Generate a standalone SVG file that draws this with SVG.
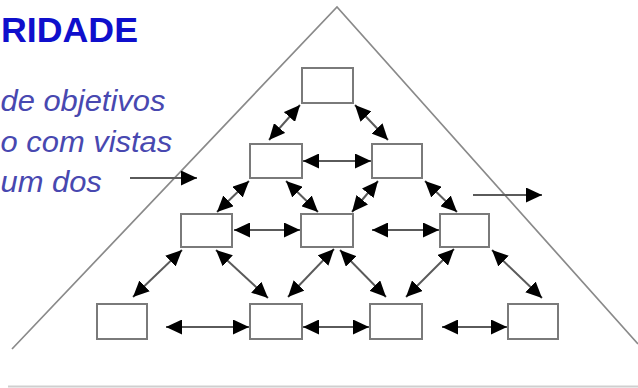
<svg xmlns="http://www.w3.org/2000/svg" width="638" height="388" viewBox="0 0 638 388">
<style>
.box{fill:#fff;stroke:#7a7a7a;stroke-width:2}
.con{stroke:#5a5a5a;stroke-width:2;fill:none}
.dbl{marker-start:url(#ah);marker-end:url(#ah)}
.one{marker-end:url(#ah)}
.title{font-family:"Liberation Sans",Arial,sans-serif;font-weight:bold;font-size:35px;fill:#0f0fcc}
.body{font-family:"Liberation Sans",Arial,sans-serif;font-style:italic;font-size:30px;fill:#4848b0}
</style>
<defs>
<marker id="ah" viewBox="0 0 16 15" refX="16" refY="7.5" markerWidth="16" markerHeight="15" markerUnits="userSpaceOnUse" orient="auto-start-reverse">
<path d="M0,0 L16,7.5 L0,15 z" fill="#000"/>
</marker>
</defs>
<rect width="638" height="388" fill="#fff"/>
<g id="title"><text class="title" x="1" y="42" textLength="137" lengthAdjust="spacingAndGlyphs">RIDADE</text></g>
<g id="body-text" transform="scale(1.03,1)">
<text class="body" x="0.5" y="111">de objetivos</text>
<text class="body" x="0.5" y="152">o com vistas</text>
<text class="body" x="0.5" y="192">um dos</text>
</g>
<g id="pyramid"><polyline points="12,349 337,7 638,344" fill="none" stroke="#8a8a8a" stroke-width="1.7"/></g>
<g id="baseline"><line x1="8" y1="386.5" x2="638" y2="386.5" stroke="#cfcfcf" stroke-width="2"/></g>
<g id="connectors">
<line class="con dbl" x1="300" y1="105" x2="269" y2="140"/>
<line class="con dbl" x1="355" y1="105" x2="388" y2="140"/>
<line class="con dbl" x1="303" y1="161" x2="371" y2="161"/>
<line class="con dbl" x1="249" y1="181" x2="217" y2="212"/>
<line class="con dbl" x1="286" y1="181" x2="318" y2="212"/>
<line class="con dbl" x1="378" y1="181" x2="352" y2="212"/>
<line class="con dbl" x1="425" y1="181" x2="457" y2="212"/>
<line class="con dbl" x1="234" y1="230" x2="300" y2="230"/>
<line class="con dbl" x1="372" y1="230" x2="439" y2="230"/>
<line class="con dbl" x1="182" y1="250" x2="133" y2="297"/>
<line class="con dbl" x1="216" y1="250" x2="268" y2="298"/>
<line class="con dbl" x1="334" y1="249" x2="288" y2="297"/>
<line class="con dbl" x1="340" y1="250" x2="386" y2="297"/>
<line class="con dbl" x1="454" y1="249" x2="406" y2="297"/>
<line class="con dbl" x1="492" y1="250" x2="542" y2="298"/>
<line class="con dbl" x1="166" y1="327" x2="249" y2="327"/>
<line class="con dbl" x1="303" y1="327" x2="369" y2="327"/>
<line class="con dbl" x1="442" y1="327" x2="507" y2="327"/>
<line class="con one" x1="130" y1="178" x2="197" y2="178"/>
<line class="con one" x1="473" y1="195" x2="542" y2="195"/>
</g>
<g id="n-top"><rect class="box" x="302" y="68" width="51" height="35"/></g>
<g id="n-2a"><rect class="box" x="250" y="144" width="52" height="34"/></g>
<g id="n-2b"><rect class="box" x="372" y="144" width="50" height="34"/></g>
<g id="n-3a"><rect class="box" x="181" y="214" width="51" height="33"/></g>
<g id="n-3b"><rect class="box" x="301" y="214" width="52" height="33"/></g>
<g id="n-3c"><rect class="box" x="440" y="214" width="49" height="33"/></g>
<g id="n-4a"><rect class="box" x="97" y="304" width="50" height="35"/></g>
<g id="n-4b"><rect class="box" x="250" y="304" width="52" height="35"/></g>
<g id="n-4c"><rect class="box" x="370" y="304" width="52" height="35"/></g>
<g id="n-4d"><rect class="box" x="508" y="304" width="50" height="35"/></g>
</svg>
